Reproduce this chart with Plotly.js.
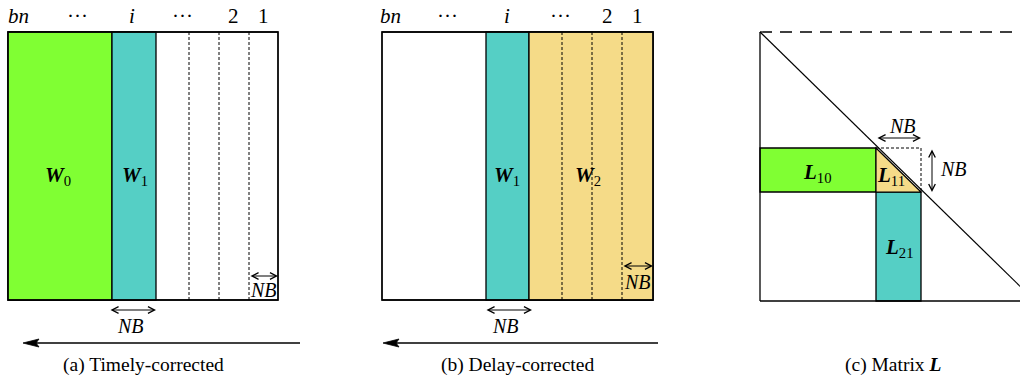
<!DOCTYPE html>
<html>
<head>
<meta charset="utf-8">
<script src="https://cdn.plot.ly/plotly-3.0.1.min.js"></script>
<style>html,body{margin:0;padding:0;background:#fff;}#chart{width:1020px;height:379px;}</style>
</head>
<body>
<div id="chart"></div>
<script>
// ---- data (diagram structure, in axis units) ----
const columnLabels = ['<i>bn</i>', '···', '<i>i</i>', '···', '2', '1'];
const colLabelXA = [18, 77, 132, 182, 233, 263];
const colLabelXB = [390, 447, 507, 560, 607, 637];

// panel (a): outer box, W0 (green), W1 (teal), dashed column boundaries
const boxA = [8, 278];
const blocksA = [[8, 112, 'green'], [112, 156, 'teal']];
const dashedA = [189, 219, 249];
// panel (b)
const boxB = [382, 653];
const blocksB = [[486, 529, 'teal'], [529, 653, 'yellow']];
const dashedB = [562, 592, 622];
const rowTop = 32, rowBottom = 300;

// panel (c): matrix L
const matL = {left: 760, top: 32, right: 1020, bottom: 301};
const blockRows = [148, 192];      // L10 / L11 row band
const blockCols = [876, 921];      // L11 / L21 column band

const blockLabels = [
  {t: '<b><i>W</i></b><sub>0</sub>', x: 58, y: 176},
  {t: '<b><i>W</i></b><sub>1</sub>', x: 135, y: 176},
  {t: '<b><i>W</i></b><sub>1</sub>', x: 507, y: 176},
  {t: '<b><i>W</i></b><sub>2</sub>', x: 588, y: 176},
  {t: '<b><i>L</i></b><sub>10</sub>', x: 817, y: 173},
  {t: '<b><i>L</i></b><sub>11</sub>', x: 891, y: 176},
  {t: '<b><i>L</i></b><sub>21</sub>', x: 899, y: 248}
];
const captions = [
  {t: '(a) Timely-corrected', x: 143},
  {t: '(b) Delay-corrected', x: 517},
  {t: '(c) Matrix <b><i>L</i></b>', x: 893}
];
// NB double arrows: [x0, x1, y] horizontal; label position
const nbArrowsH = [
  [109, 156, 310, 130, 326],
  [249, 278, 276, 263, 290],
  [485, 532, 310, 505, 326],
  [622, 653, 266, 637, 282],
  [876, 921, 138, 902, 126]
];
const nbArrowV = [932, 148, 192, 953, 169];
// big direction arrows [from, to, y]
const bigArrows = [[300, 23, 343], [658, 383, 343]];

const colors = {green: '#80FF33', teal: '#55CFC5', yellow: '#F5DB88'};
const FONT = '"Liberation Serif", "Times New Roman", serif';

// ---- build shapes ----
const shapes = [];
const line = (w, dash) => ({color: '#000', width: w, dash: dash || 'solid'});
function rect(x0, x1, y0, y1, fill, lw) {
  shapes.push({type: 'rect', xref: 'x', yref: 'y', x0, x1, y0, y1,
    fillcolor: fill, line: line(lw === undefined ? 1.3 : lw)});
}
function seg(x0, y0, x1, y1, w, dash) {
  shapes.push({type: 'line', xref: 'x', yref: 'y', x0, y0, x1, y1, line: line(w, dash)});
}
[[boxA, blocksA, dashedA], [boxB, blocksB, dashedB]].forEach(([box, blocks, dashed]) => {
  rect(box[0], box[1], rowTop, rowBottom, '#fff');
  blocks.forEach(b => rect(b[0], b[1], rowTop, rowBottom, colors[b[2]]));
  dashed.forEach(x => seg(x, rowTop, x, rowBottom, 1, '3px,2px'));
  rect(box[0], box[1], rowTop, rowBottom, 'rgba(0,0,0,0)');
});

// panel (c)
rect(matL.left, blockCols[0], blockRows[0], blockRows[1], colors.green);
rect(blockCols[0], blockCols[1], blockRows[1], matL.bottom, colors.teal);
shapes.push({type: 'path', xref: 'x', yref: 'y',
  path: `M${blockCols[0]},${blockRows[0]} L${blockCols[0]},${blockRows[1]} L${blockCols[1]},${blockRows[1]} Z`,
  fillcolor: colors.yellow, line: line(1.2)});
shapes.push({type: 'path', xref: 'x', yref: 'y',
  path: `M${blockCols[0]},${blockRows[0]} L${blockCols[1]},${blockRows[0]} L${blockCols[1]},${blockRows[1]}`,
  line: line(1, '3px,2px')});
seg(matL.left, matL.top, matL.left, matL.bottom, 1.3);
seg(matL.left, matL.bottom, matL.right, matL.bottom, 1.3);
seg(matL.left, matL.top, matL.right, matL.top, 1.3, '12px,8px');
const slope = (blockRows[1] - blockRows[0]) / (blockCols[1] - blockCols[0]);
seg(matL.left, matL.top, matL.left + (matL.bottom - matL.top) / slope, matL.bottom, 1.2);

// big arrows
bigArrows.forEach(([from, to, y]) => {
  seg(from, y, to + 10, y, 1.3);
  shapes.push({type: 'path', xref: 'x', yref: 'y',
    path: `M${to},${y} L${to + 16},${y - 4} L${to + 13},${y} L${to + 16},${y + 4} Z`,
    fillcolor: '#000', line: line(0.8)});
});

// ---- annotations ----
const annotations = [];
function txt(t, x, y, size, extra) {
  annotations.push(Object.assign({text: t, x, y, xref: 'x', yref: 'y', showarrow: false,
    xanchor: 'center', yanchor: 'middle', font: {family: FONT, size, color: '#000'}}, extra || {}));
}
columnLabels.forEach((t, k) => { txt(t, colLabelXA[k], 16, 21); txt(t, colLabelXB[k], 16, 21); });
blockLabels.forEach(b => txt(b.t, b.x, b.y, 21));
captions.forEach(c => txt(c.t, c.x, 365, 19.5));

function dblArrow(x0, y0, x1, y1) {
  annotations.push({text: '', x: x1, y: y1, ax: x0, ay: y0, xref: 'x', yref: 'y', axref: 'x', ayref: 'y',
    showarrow: true, arrowhead: 5, startarrowhead: 5, arrowside: 'end+start', arrowsize: 1.3,
    startarrowsize: 1.3, arrowwidth: 1, arrowcolor: '#000', standoff: 0, startstandoff: 0});
}
nbArrowsH.forEach(([x0, x1, y, tx, ty]) => { dblArrow(x0, y, x1, y); txt('<i>NB</i>', tx, ty, 20); });
dblArrow(nbArrowV[0], nbArrowV[1], nbArrowV[0], nbArrowV[2]);
txt('<i>NB</i>', nbArrowV[3], nbArrowV[4], 20);

const layout = {
  width: 1020, height: 379,
  margin: {l: 0, r: 0, t: 0, b: 0, pad: 0},
  paper_bgcolor: '#fff', plot_bgcolor: '#fff',
  xaxis: {range: [0, 1020], visible: false, fixedrange: true},
  yaxis: {range: [379, 0], visible: false, fixedrange: true},
  showlegend: false,
  shapes, annotations
};
Plotly.newPlot('chart', [], layout, {staticPlot: true, displayModeBar: false});
</script>
</body>
</html>
